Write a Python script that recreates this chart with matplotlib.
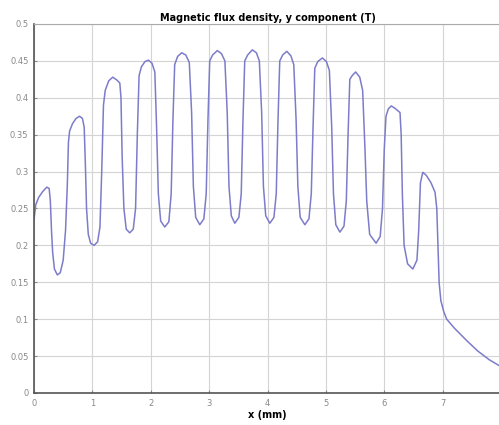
import matplotlib
matplotlib.use("Agg")
from matplotlib import pyplot as plt

# x position (mm) and By (T)
x_mm = [0.00, 0.03, 0.08, 0.15, 0.22, 0.26, 0.28, 0.30, 0.32, 0.35, 0.40, 0.45, 0.50, 0.54, 0.57, 0.59,
        0.61, 0.66, 0.72, 0.78, 0.83, 0.86, 0.88, 0.90, 0.93, 0.97, 1.03, 1.09, 1.13, 1.16, 1.19, 1.22,
        1.28, 1.35, 1.42, 1.47, 1.49, 1.51, 1.54, 1.58, 1.64, 1.70, 1.74, 1.77, 1.80, 1.84, 1.90, 1.96,
        2.02, 2.07, 2.10, 2.13, 2.17, 2.24, 2.31, 2.35, 2.38, 2.41, 2.46, 2.53, 2.60, 2.66, 2.70, 2.73,
        2.77, 2.84, 2.91, 2.95, 2.98, 3.01, 3.06, 3.14, 3.21, 3.27, 3.31, 3.34, 3.38, 3.44, 3.51, 3.55,
        3.58, 3.61, 3.66, 3.74, 3.81, 3.86, 3.90, 3.93, 3.97, 4.04, 4.11, 4.15, 4.18, 4.21, 4.26, 4.33,
        4.40, 4.45, 4.49, 4.52, 4.56, 4.64, 4.71, 4.75, 4.78, 4.81, 4.86, 4.94, 5.01, 5.06, 5.10, 5.13,
        5.17, 5.24, 5.31, 5.35, 5.38, 5.41, 5.45, 5.51, 5.58, 5.63, 5.67, 5.70, 5.75, 5.86, 5.93, 5.97,
        6.00, 6.03, 6.07, 6.12, 6.18, 6.24, 6.27, 6.29, 6.31, 6.34, 6.40, 6.49, 6.56, 6.59, 6.62, 6.66,
        6.72, 6.80, 6.87, 6.90, 6.92, 6.94, 6.97, 7.02, 7.07, 7.20, 7.40, 7.60, 7.80, 7.95, 8.00]
by_t = [0.235, 0.255, 0.265, 0.273, 0.279, 0.277, 0.260, 0.220, 0.190, 0.168, 0.160, 0.163, 0.180, 0.220, 0.280, 0.340,
        0.355, 0.365, 0.372, 0.375, 0.372, 0.360, 0.310, 0.250, 0.215, 0.203, 0.200, 0.205, 0.225, 0.300, 0.390, 0.410,
        0.423, 0.428, 0.424, 0.420, 0.400, 0.320, 0.250, 0.222, 0.217, 0.222, 0.250, 0.350, 0.430, 0.442, 0.449, 0.451,
        0.447, 0.435, 0.360, 0.270, 0.233, 0.225, 0.232, 0.270, 0.370, 0.445, 0.456, 0.461, 0.458, 0.448, 0.380, 0.280,
        0.238, 0.228, 0.236, 0.270, 0.370, 0.450, 0.458, 0.464, 0.460, 0.450, 0.380, 0.280, 0.240, 0.230, 0.238, 0.270,
        0.370, 0.450, 0.458, 0.465, 0.461, 0.450, 0.380, 0.280, 0.240, 0.230, 0.238, 0.270, 0.370, 0.450, 0.458, 0.463,
        0.457, 0.445, 0.370, 0.280, 0.238, 0.228, 0.236, 0.270, 0.360, 0.440, 0.449, 0.454, 0.449, 0.437, 0.360, 0.270,
        0.228, 0.218, 0.226, 0.260, 0.350, 0.425, 0.430, 0.435, 0.428, 0.410, 0.330, 0.260, 0.215, 0.203, 0.212, 0.250,
        0.330, 0.375, 0.385, 0.389, 0.386, 0.382, 0.380, 0.350, 0.270, 0.200, 0.175, 0.168, 0.180, 0.220, 0.285, 0.299,
        0.295, 0.285, 0.272, 0.250, 0.200, 0.150, 0.125, 0.110, 0.100, 0.088, 0.072, 0.057, 0.045, 0.038, 0.036]

x_ticks = [0, 1, 2, 3, 4, 5, 6, 7, 8]
y_ticks = [0, 0.05, 0.1, 0.15, 0.2, 0.25, 0.3, 0.35, 0.4, 0.45, 0.5]
y_tick_labels = ["0", "0.05", "0.1", "0.15", "0.2", "0.25", "0.3", "0.35", "0.4", "0.45", "0.5"]

fig = plt.figure(figsize=(4.99, 4.25), dpi=100)
ax = fig.add_axes([34 / 499, 32 / 425, 467 / 499, 369 / 425])

ax.plot(x_mm, by_t, color="#7c7cca", lw=1.1)

ax.set_xlim(0, 8)
ax.set_ylim(0, 0.5)
ax.set_xticks(x_ticks)
ax.set_yticks(y_ticks)
ax.set_yticklabels(y_tick_labels)
ax.grid(True, color="#d4d4d4", lw=0.8)
ax.set_axisbelow(True)

ax.tick_params(labelsize=6, colors="#888888", length=2, direction="in", pad=4)
for s in ["left", "bottom"]:
    ax.spines[s].set_color("#555555")
    ax.spines[s].set_linewidth(1.2)
for s in ["top", "right"]:
    ax.spines[s].set_color("#aaaaaa")
    ax.spines[s].set_linewidth(0.8)

ax.set_title("Magnetic flux density, y component (T)", fontsize=7, fontweight="bold", pad=2)
ax.set_xlabel("x (mm)", fontsize=7, fontweight="bold", labelpad=2)

fig.savefig("out.png", dpi=100)
